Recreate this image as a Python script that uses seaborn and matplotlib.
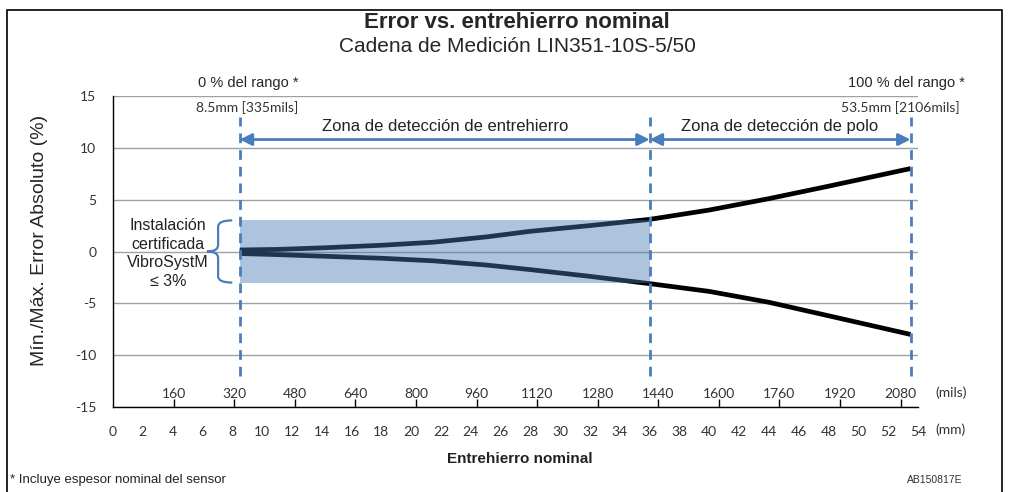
import matplotlib
matplotlib.use("Agg")
import matplotlib.pyplot as plt
import matplotlib.patches as mpatches
from matplotlib.path import Path
from matplotlib import font_manager
import numpy as np
import pandas as pd
import seaborn as sns

# values
gap_mm = [8.5, 11, 14, 18, 21.5, 25, 28, 32, 36, 40, 44, 48, 53.5]
err_max = [0.15, 0.2, 0.35, 0.6, 0.9, 1.4, 1.95, 2.5, 3.1, 4.0, 5.1, 6.3, 8.0]
err_min = [-0.2, -0.3, -0.45, -0.65, -0.9, -1.3, -1.75, -2.4, -3.1, -3.85, -4.9, -6.2, -8.0]
zone_split_mm = 36
cert_limit = 3
mm_ticks = list(range(0, 55, 2))
mils_ticks = [160, 320, 480, 640, 800, 960, 1120, 1280, 1440, 1600, 1760, 1920, 2080]
y_ticks = [-15, -10, -5, 0, 5, 10, 15]

sns.set_style("white")
names = {f.name for f in font_manager.fontManager.ttflist}
narrow = "Liberation Sans Narrow" if "Liberation Sans Narrow" in names else "Liberation Sans"
plt.rcParams["font.family"] = ["Liberation Sans", "DejaVu Sans"]
plt.rcParams["axes.unicode_minus"] = False
calib = ["Lato", "DejaVu Sans"]

BLUE = "#4a7ebb"
TXT = "#333333"

fig = plt.figure(figsize=(10.10, 4.92), dpi=100)
ax = fig.add_axes([113 / 1010, 1 - 407 / 492, (918 - 113) / 1010, (407 - 96) / 492])

df = pd.DataFrame({"gap": gap_mm * 2,
                   "err": err_max + err_min,
                   "serie": ["max"] * len(gap_mm) + ["min"] * len(gap_mm)})
sns.lineplot(data=df, x="gap", y="err", units="serie", estimator=None,
             color="black", lw=3.4, ax=ax, zorder=3, solid_capstyle="butt")

# certified installation band (drawn over the curves, translucent)
ax.fill_between([gap_mm[0], zone_split_mm], -cert_limit, cert_limit,
                color="#4678b6", alpha=0.44, lw=0, zorder=4)

# dashed markers
for xv in [gap_mm[0], zone_split_mm, gap_mm[-1]]:
    ax.plot([xv, xv], [-12, 13], color=BLUE, lw=2, ls=(0, (3.5, 2.5)), zorder=5, clip_on=False)

# zone arrows
for x0, x1, label in [(gap_mm[0], zone_split_mm, "Zona de detección de entrehierro"),
                      (zone_split_mm, gap_mm[-1], "Zona de detección de polo")]:
    ax.annotate("", xy=(x1, 10.8), xytext=(x0, 10.8),
                arrowprops=dict(arrowstyle="<|-|>", color=BLUE, lw=2,
                                mutation_scale=18, shrinkA=0, shrinkB=0), zorder=6)
    ax.text((x0 + x1) / 2, 12.1, label, ha="center", va="center", fontsize=12, color="#222222")

# range labels
ax.text(gap_mm[0] + 0.6, 16.3, "0 % del rango *", ha="center", va="center",
        fontsize=10.5, family=narrow, clip_on=False)
ax.text(gap_mm[0] + 0.5, 13.9, "8.5mm [335mils]", ha="center", va="center",
        fontsize=10, family=calib, color=TXT)
ax.text(gap_mm[-1] - 0.3, 16.3, "100 % del rango *", ha="center", va="center",
        fontsize=10.5, family=narrow, clip_on=False)
ax.text(gap_mm[-1] - 0.7, 13.9, "53.5mm [2106mils]", ha="center", va="center",
        fontsize=10, family=calib, color=TXT)

# brace + certified note
bx, tip, x_end = 7.05, 6.3, 8.0
verts = [(x_end, cert_limit), (bx, cert_limit), (bx, cert_limit - 0.6),
         (bx, 0.6), (bx, 0), (tip, 0), (bx, 0), (bx, -0.6),
         (bx, -cert_limit + 0.6), (bx, -cert_limit), (x_end, -cert_limit)]
codes = [Path.MOVETO, Path.CURVE3, Path.CURVE3, Path.LINETO, Path.CURVE3, Path.CURVE3,
         Path.CURVE3, Path.CURVE3, Path.LINETO, Path.CURVE3, Path.CURVE3]
ax.add_patch(mpatches.PathPatch(Path(verts, codes), fill=False, ec=BLUE, lw=1.6, zorder=5))
ax.text(3.7, -0.2, "Instalación\ncertificada\nVibroSystM\n≤ 3%", ha="center", va="center",
        fontsize=11.5, linespacing=1.3, color="#222222")

# axes styling
ax.set_xlim(0, 54)
ax.set_ylim(-15, 15)
ax.set_yticks(y_ticks)
ax.set_xticks(mm_ticks)
ax.yaxis.grid(True, color="#a0a0a0", lw=1)
ax.xaxis.grid(False)
for s in ["top", "right"]:
    ax.spines[s].set_visible(False)
for s in ["left", "bottom"]:
    ax.spines[s].set_color("black")
    ax.spines[s].set_linewidth(1)
ax.tick_params(axis="y", direction="out", length=5, width=1, color="black", pad=7,
               labelsize=10, labelcolor=TXT)
ax.tick_params(axis="x", direction="out", length=5, width=1, color="black", pad=9,
               labelsize=10, labelcolor=TXT)
for lab in ax.get_xticklabels() + ax.get_yticklabels():
    lab.set_family(calib)
ax.set_xlabel("")
ax.set_ylabel("")

sec = ax.secondary_xaxis("bottom", functions=(lambda v: v / 0.0254, lambda v: v * 0.0254))
sec.set_xticks(mils_ticks)
sec.spines["bottom"].set_visible(False)
sec.tick_params(direction="in", length=6, width=1, color="black", pad=-14,
                labelsize=10, labelcolor=TXT)
for lab in sec.get_xticklabels():
    lab.set_family(calib)

fig.text(935 / 1010, 1 - 393 / 492, "(mils)", ha="left", va="center", fontsize=10,
         family=calib, color=TXT)
fig.text(935 / 1010, 1 - 430 / 492, "(mm)", ha="left", va="center", fontsize=10,
         family=calib, color=TXT)

# titles and labels
fig.text(0.512, 1 - 22 / 492, "Error vs. entrehierro nominal", ha="center", va="center",
         fontsize=16, fontweight="bold", family=narrow)
fig.text(0.512, 1 - 47 / 492, "Cadena de Medición LIN351-10S-5/50", ha="center", va="center",
         fontsize=15, family=narrow)
fig.text(40 / 1010, 1 - 240 / 492, "Mín./Máx. Error Absoluto (%)", ha="center", va="center",
         rotation=90, fontsize=14)
fig.text(520 / 1010, 1 - 459 / 492, "Entrehierro nominal", ha="center", va="center",
         fontsize=11, fontweight="bold", color="#222222")
fig.text(10 / 1010, 1 - 480 / 492, "* Incluye espesor nominal del sensor", ha="left",
         va="center", fontsize=9.5, color="#222222")
fig.text(962 / 1010, 1 - 480 / 492, "AB150817E", ha="right", va="center", fontsize=7.5,
         color="#333333")

# outer frame
fig.add_artist(mpatches.Rectangle((7 / 1010, -0.02), (1002 - 7) / 1010, (492 - 10) / 492 + 0.02,
                                  transform=fig.transFigure, fill=False, ec="black", lw=1.2))

fig.savefig("out.png", dpi=100)
